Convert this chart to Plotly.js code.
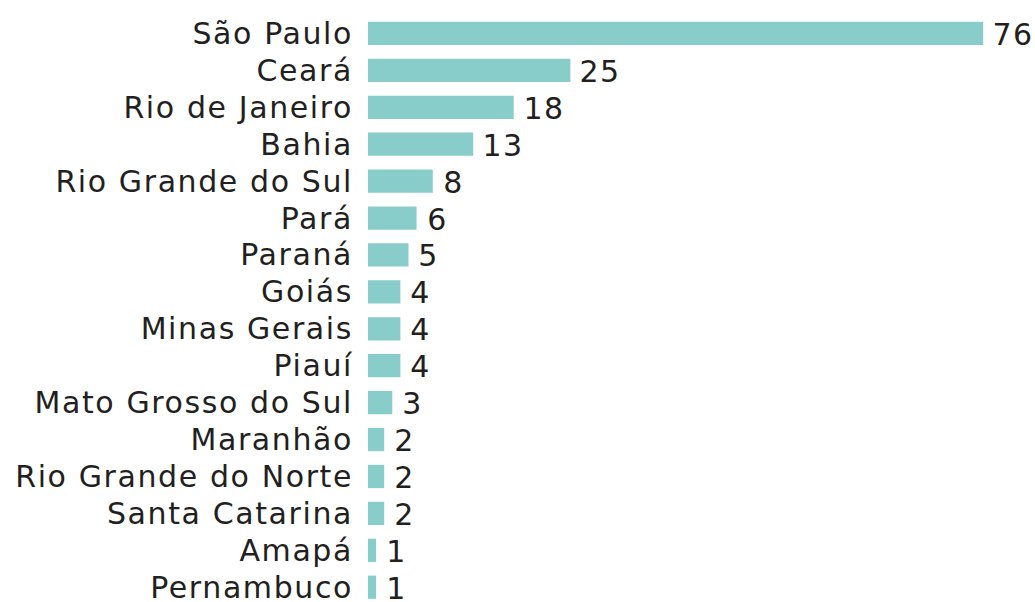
<!DOCTYPE html>
<html><head><meta charset="utf-8">
<script src="https://cdn.plot.ly/plotly-3.0.1.min.js"></script>
<style>
html,body{margin:0;padding:0;background:#fff}
#chart{width:1035px;height:602px}
#chart .ytick text{letter-spacing:1.6px}
#chart .annotation-text{letter-spacing:1.5px}
</style>
</head><body><div id="chart"></div>
<script>
const states = ["São Paulo","Ceará","Rio de Janeiro","Bahia","Rio Grande do Sul","Pará","Paraná","Goiás","Minas Gerais","Piauí","Mato Grosso do Sul","Maranhão","Rio Grande do Norte","Santa Catarina","Amapá","Pernambuco"];
const counts = [76,25,18,13,8,6,5,4,4,4,3,2,2,2,1,1];

const FONT = 'DejaVu Sans';
const annotations = states.map((s, i) => ({
  x: counts[i], y: s, xref: 'x', yref: 'y',
  text: String(counts[i]), showarrow: false,
  xanchor: 'left', yanchor: 'middle', xshift: 9, yshift: -1,
  font: {family: FONT, size: 30, color: '#231f20'}
}));

Plotly.newPlot('chart', [{
  type: 'bar',
  orientation: 'h',
  y: states,
  x: counts,
  marker: {color: '#88cdc9'},
  width: 0.63,
  hoverinfo: 'none'
}], {
  width: 1035, height: 602,
  margin: {l: 368, r: 0, t: 15, b: 0},
  paper_bgcolor: '#fff', plot_bgcolor: '#fff',
  showlegend: false,
  xaxis: {range: [0, 82.4], visible: false, fixedrange: true},
  yaxis: {range: [15.4, -0.5], showgrid: false, zeroline: false, showline: false,
          ticks: 'outside', ticklen: 8, tickcolor: 'rgba(0,0,0,0)',
          tickfont: {family: FONT, size: 30, color: '#231f20'}, automargin: false},
  annotations: annotations
}, {displayModeBar: false, staticPlot: true});
</script></body></html>
